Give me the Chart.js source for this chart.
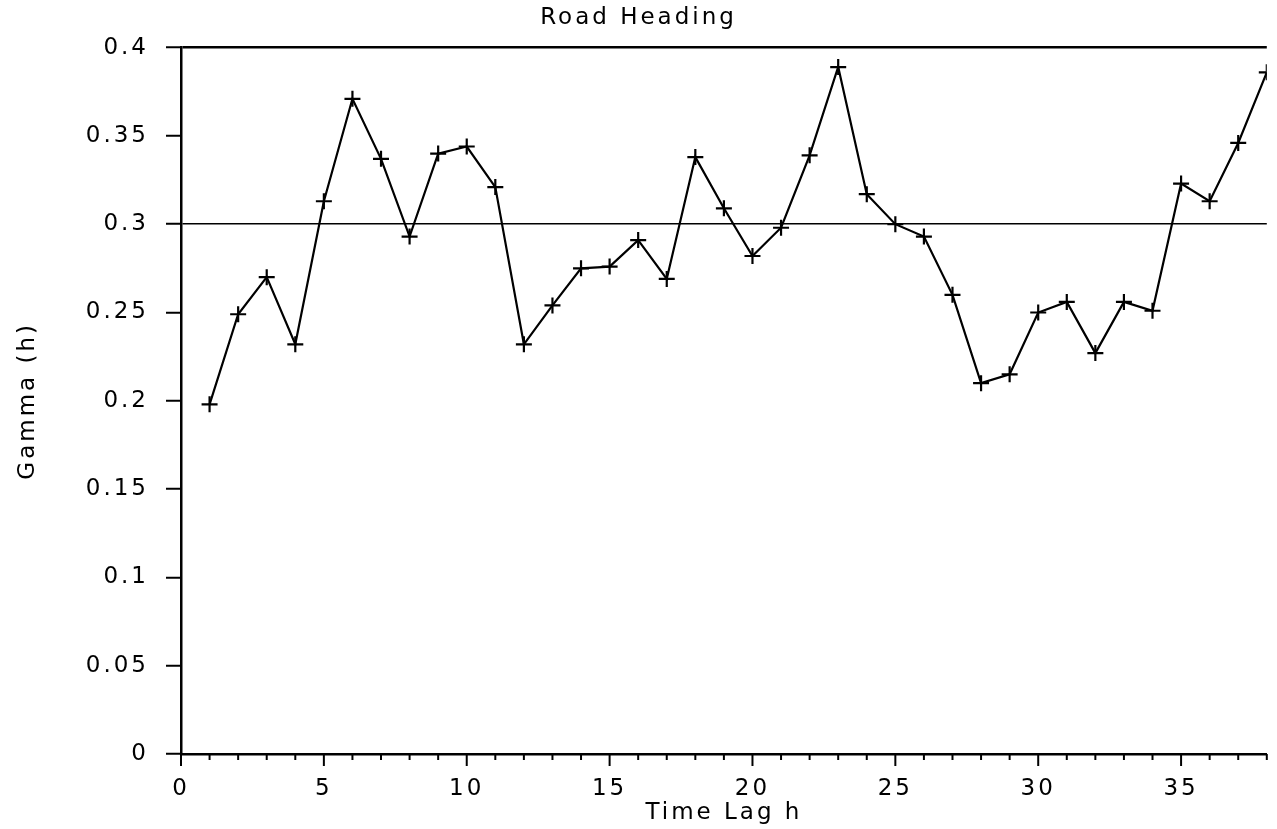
<!DOCTYPE html>
<html>
<head>
<meta charset="utf-8">
<script src="https://cdn.jsdelivr.net/npm/chart.js@4.4.1/dist/chart.umd.min.js"></script>
<style>
html,body{margin:0;padding:0;background:#fff;overflow:hidden;}
#wrap{width:1277px;height:829px;position:relative;}
</style>
</head>
<body>
<div id="wrap"><canvas id="c"></canvas></div>
<script>
const lags = [1,2,3,4,5,6,7,8,9,10,11,12,13,14,15,16,17,18,19,20,21,22,23,24,25,26,27,28,29,30,31,32,33,34,35,36,37,38];
const gamma = [0.198,0.249,0.270,0.232,0.313,0.371,0.337,0.293,0.340,0.344,0.321,0.232,0.254,0.275,0.276,0.291,0.269,0.338,0.309,0.282,0.298,0.339,0.389,0.317,0.300,0.293,0.260,0.210,0.215,0.250,0.256,0.227,0.256,0.251,0.323,0.313,0.346,0.386];
const xTickValues = [0,5,10,15,20,25,30,35];
const yTickValues = [0,0.05,0.1,0.15,0.2,0.25,0.3,0.35,0.4];
const refLine = 0.3;
const titleText = 'Road Heading';
const xTitle = 'Time Lag h';
const yTitle = 'Gamma (h)';

const FONT = 'DejaVu Sans';
const FS = 23;

const spacingPlugin = {
  id: 'spacing',
  beforeInit(chart){ chart.ctx.letterSpacing = '3px'; },
  beforeDraw(chart){ chart.ctx.letterSpacing = '3px'; }
};

const xTicksPlugin = {
  id: 'xTicks',
  afterDraw(chart){
    const xs = chart.scales.x, ys = chart.scales.y, ctx = chart.ctx;
    const y0 = ys.getPixelForValue(0);
    ctx.save();
    ctx.strokeStyle = '#000';
    ctx.lineWidth = 2;
    for (let v = 0; v <= 38; v++) {
      const px = xs.getPixelForValue(v);
      const len = (v % 5 === 0) ? 12 : 6;
      ctx.beginPath();
      ctx.moveTo(px, y0);
      ctx.lineTo(px, y0 + len);
      ctx.stroke();
    }
    ctx.restore();
  }
};

new Chart(document.getElementById('c'), {
  type: 'line',
  data: {
    datasets: [{
      data: lags.map((h,i)=>({x:h, y:gamma[i]})),
      borderColor: '#000',
      borderWidth: 2.2,
      pointStyle: 'cross',
      pointRadius: 8,
      pointBorderWidth: 2.2,
      pointBorderColor: '#000',
      tension: 0,
      fill: false
    }]
  },
  options: {
    responsive: true,
    maintainAspectRatio: false,
    animation: false,
    layout: { padding: { left: 0, right: 0, top: 0, bottom: 0 } },
    plugins: {
      legend: { display: false },
      tooltip: { enabled: false },
      title: {
        display: true,
        text: titleText,
        color: '#000',
        font: { family: FONT, size: FS, weight: 'normal', lineHeight: 1.2 },
        padding: { top: 4, bottom: 16 }
      }
    },
    scales: {
      x: {
        type: 'linear',
        min: 0,
        max: 38,
        afterFit: s => { s.height = 75; },
        afterBuildTicks: s => { s.ticks = xTickValues.map(v => ({ value: v })); },
        ticks: {
          autoSkip: false,
          maxRotation: 0,
          color: '#000',
          padding: 9,
          font: { family: FONT, size: FS },
          callback: v => String(v)
        },
        grid: { display: true, drawOnChartArea: false, tickLength: 12, tickColor: 'rgba(0,0,0,0)' },
        border: { display: true, color: '#000', width: 2.5 },
        title: {
          display: true,
          text: xTitle,
          color: '#000',
          font: { family: FONT, size: FS, lineHeight: 1.2 },
          padding: { top: 0, bottom: 2 }
        }
      },
      y: {
        min: 0,
        max: 0.4,
        afterFit: s => { s.width = 181; },
        afterBuildTicks: s => { s.ticks = yTickValues.map(v => ({ value: v })); },
        ticks: {
          color: '#000',
          padding: 17,
          font: { family: FONT, size: FS },
          callback: v => String(Number(v.toFixed(2)))
        },
        grid: {
          drawOnChartArea: true,
          tickLength: 15,
          tickColor: '#000',
          tickWidth: 2,
          lineWidth: ctx => (Math.abs(ctx.tick.value - 0.4) < 1e-9 ? 2.5 : 1.5),
          color: ctx => {
            const v = ctx.tick.value;
            return (Math.abs(v - refLine) < 1e-9 || Math.abs(v - 0.4) < 1e-9) ? '#000' : 'rgba(0,0,0,0)';
          }
        },
        border: { display: true, color: '#000', width: 2.5 },
        title: {
          display: true,
          text: yTitle,
          color: '#000',
          font: { family: FONT, size: FS, lineHeight: 1.2 },
          padding: { top: 14, bottom: 0 }
        }
      }
    }
  },
  plugins: [spacingPlugin, xTicksPlugin]
});
</script>
</body>
</html>
